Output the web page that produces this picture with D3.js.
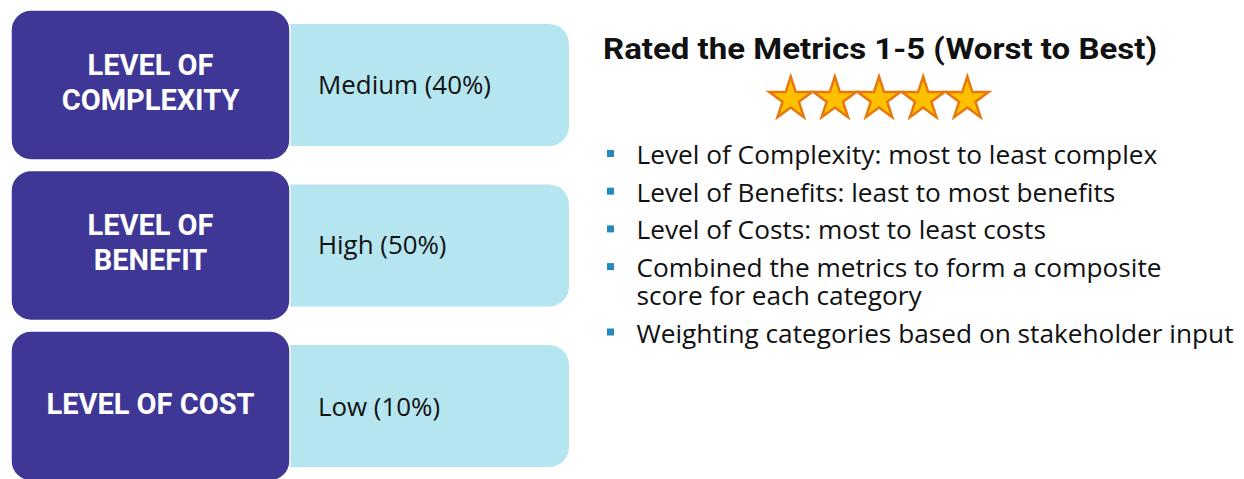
<!DOCTYPE html>
<html>
<head>
<meta charset="utf-8">
<script src="https://cdn.jsdelivr.net/npm/d3@7"></script>
<style>
  html, body { margin: 0; padding: 0; background: #ffffff; }
  svg { display: block; }
</style>
</head>
<body>
<svg id="chart" width="1244" height="479"></svg>
<script>
// ---- data ----
const categories = ["LEVEL OF COMPLEXITY", "LEVEL OF BENEFIT", "LEVEL OF COST"];
const categoryLines = [["LEVEL OF", "COMPLEXITY"], ["LEVEL OF", "BENEFIT"], ["LEVEL OF COST"]];
const levels = ["Medium", "High", "Low"];
const weights = [40, 50, 10];
const title = "Rated the Metrics 1-5 (Worst to Best)";
const ratings = [1, 2, 3, 4, 5];
const bullets = [
  ["Level of Complexity: most to least complex"],
  ["Level of Benefits: least to most benefits"],
  ["Level of Costs: most to least costs"],
  ["Combined the metrics to form a composite", "score for each category"],
  ["Weighting categories based on stakeholder input"]
];

// ---- drawing ----
const svg = d3.select("#chart");
const DARK = "#3F3795", LIGHT = "#B5E5EF", STAR_FILL = "#FFC000", STAR_STROKE = "#E8780E", BULLET = "#2389BE";

const y = d3.scaleBand().domain(categories).range([10, 481]).paddingInner(0.0654).paddingOuter(0);
const bw = y.bandwidth();

const rows = svg.append("g").selectAll("g").data(categories).join("g")
  .attr("transform", d => `translate(0,${y(d)})`);

// light boxes (behind)
rows.append("rect")
  .attr("x", 260).attr("y", 14).attr("width", 309).attr("height", bw - 28)
  .attr("rx", 20).attr("fill", LIGHT);

// dark boxes
rows.append("rect")
  .attr("x", 11).attr("y", 0).attr("width", 279).attr("height", bw)
  .attr("rx", 20).attr("fill", DARK).attr("stroke", "#ffffff").attr("stroke-width", 1.5);

// category labels
rows.each(function(d, i) {
  const lines = categoryLines[i];
  const g = d3.select(this);
  const base = lines.length === 1 ? 83 : 65;
  const t = g.append("text")
    .attr("text-anchor", "middle")
    .attr("font-family", "Roboto, 'Liberation Sans', sans-serif")
    .attr("font-weight", 700).attr("font-size", 29)
    .attr("fill", "#ffffff");
  lines.forEach((ln, j) => {
    t.append("tspan").attr("x", 150.5).attr("y", base + j * 35).text(ln);
  });
});

// level labels
const levelTexts = rows.append("text")
  .attr("x", 318).attr("y", (d, i) => 84 + (i === 2 ? 1 : 0))
  .attr("font-family", "'Open Sans', sans-serif")
  .attr("font-size", 25).attr("fill", "#111111")
  .text((d, i) => `${levels[i]} (${weights[i]}%)`);
{
  const w = levelTexts.nodes()[0].getComputedTextLength();
  levelTexts.attr("font-size", 25 * 173 / w);
}

// title
svg.append("text")
  .attr("x", 603).attr("y", 58.5)
  .attr("font-family", "Roboto, 'Liberation Sans', sans-serif")
  .attr("font-weight", 700).attr("font-size", 30)
  .attr("fill", "#111111")
  .attr("textLength", 554).attr("lengthAdjust", "spacingAndGlyphs")
  .text(title);

// stars
const sx = d3.scaleLinear().domain([1, 5]).range([790.7, 967.3]);
const R = 22.5, r = R * 0.382;
const starPts = d3.range(10).map(k => {
  const a = -Math.PI / 2 + k * Math.PI / 5;
  const rad = k % 2 === 0 ? R : r;
  return [rad * Math.cos(a), rad * Math.sin(a)];
});
svg.append("g").selectAll("path").data(ratings).join("path")
  .attr("transform", d => `translate(${sx(d)},99)`)
  .attr("d", d3.line()(starPts) + "Z")
  .attr("fill", STAR_FILL).attr("stroke", STAR_STROKE).attr("stroke-width", 2.5)
  .attr("stroke-linejoin", "miter");

// bullets
const bulletG = svg.append("g");
let baseY = 164;
const itemGap = 37.7, wrapGap = 27.7;
const allTexts = [];
bullets.forEach((item) => {
  bulletG.append("rect")
    .attr("x", 607).attr("y", baseY - 14).attr("width", 7).attr("height", 7)
    .attr("fill", BULLET);
  const t = bulletG.append("text")
    .attr("font-family", "'Open Sans', sans-serif")
    .attr("font-size", 25).attr("fill", "#111111");
  item.forEach((ln, j) => {
    t.append("tspan").attr("x", 636.5).attr("y", baseY + j * wrapGap).text(ln);
  });
  allTexts.push(t);
  baseY += (item.length - 1) * wrapGap + itemGap;
});
{
  const w = allTexts[0].node().getComputedTextLength();
  const fs = 25 * 521 / w;
  allTexts.forEach(t => t.attr("font-size", fs));
}
</script>
</body>
</html>
